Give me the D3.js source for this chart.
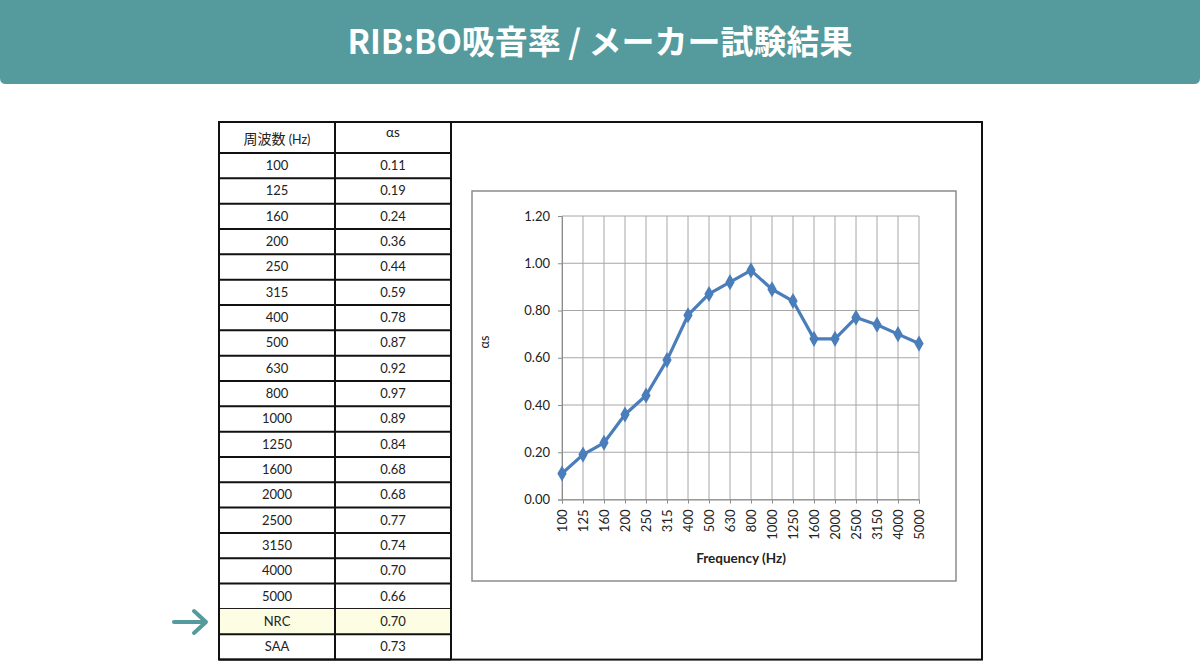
<!DOCTYPE html>
<html><head><meta charset="utf-8">
<script src="https://cdn.jsdelivr.net/npm/d3@7/dist/d3.min.js"></script>
<style>
body{margin:0;background:#fff;}
svg{display:block;}
</style></head>
<body>
<svg id="c" width="1200" height="670"></svg>
<script>
const title = "RIB:BO吸音率 / メーカー試験結果";
const frequencies = ["100","125","160","200","250","315","400","500","630","800","1000","1250","1600","2000","2500","3150","4000","5000"];
const alphaValues = [0.11,0.19,0.24,0.36,0.44,0.59,0.78,0.87,0.92,0.97,0.89,0.84,0.68,0.68,0.77,0.74,0.70,0.66];
const summaryLabels = ["NRC","SAA"];
const summaryValues = [0.70,0.73];
const yTicks = [0,0.2,0.4,0.6,0.8,1.0,1.2];

const svg = d3.select("#c");
const teal = "#559a9c";

// Banner
svg.append("path")
  .attr("d", "M0,0 H1200 V78 Q1200,84 1194,84 H6 Q0,84 0,78 Z")
  .attr("fill", teal);
svg.append("text").attr("x",600).attr("y",54).attr("text-anchor","middle")
  .attr("font-family","'Noto Sans CJK JP','Noto Sans',sans-serif").attr("font-weight","700")
  .attr("font-size",33).attr("fill","#fff").text(title);

// Table
const tL = 219, tM = 335, tR = 451, boxR = 982, tTop = 122, hdrB = 153, rowH = 25.33;
const rows = frequencies.map((f,i)=>({label:f, value:alphaValues[i].toFixed(2)}))
  .concat(summaryLabels.map((s,i)=>({label:s, value:summaryValues[i].toFixed(2), hl: s==="NRC"})));
const tBot = hdrB + rows.length*rowH;
const font = "Lato,'Open Sans',sans-serif";

const tg = svg.append("g");
rows.forEach((r,i)=>{
  const y0 = hdrB + i*rowH;
  if (r.hl) tg.append("rect").attr("x",tL).attr("y",y0).attr("width",tR-tL).attr("height",rowH).attr("fill","#fdfde3");
  tg.append("text").attr("x",(tL+tM)/2).attr("y",y0+rowH/2+4.5).attr("text-anchor","middle")
    .attr("font-family",font).attr("font-size",13).attr("fill","#222").text(r.label);
  tg.append("text").attr("x",(tM+tR)/2).attr("y",y0+rowH/2+4.5).attr("text-anchor","middle")
    .attr("font-family",font).attr("font-size",13).attr("fill","#222").text(r.value);
  tg.append("line").attr("x1",tL).attr("x2",tR).attr("y1",y0+rowH).attr("y2",y0+rowH)
    .attr("stroke","#111").attr("stroke-width",2);
});
// header
const h1 = tg.append("text").attr("x",(tL+tM)/2).attr("y",144).attr("text-anchor","middle")
  .attr("font-family","'Noto Sans CJK JP',sans-serif").attr("font-size",14).attr("fill","#222");
h1.append("tspan").text("周波数 ");
h1.append("tspan").attr("font-size",12.5).attr("font-family",font).text("(Hz)");
tg.append("text").attr("x",(tM+tR)/2).attr("y",137).attr("text-anchor","middle")
  .attr("font-family",font).attr("font-size",13.5).attr("fill","#222").text("αs");
tg.append("line").attr("x1",tL).attr("x2",tR).attr("y1",hdrB).attr("y2",hdrB).attr("stroke","#111").attr("stroke-width",2);
[tL,tM,tR].forEach(x=>tg.append("line").attr("x1",x).attr("x2",x).attr("y1",tTop).attr("y2",tBot).attr("stroke","#111").attr("stroke-width",2));
tg.append("rect").attr("x",tL).attr("y",tTop).attr("width",boxR-tL).attr("height",tBot-tTop)
  .attr("fill","none").attr("stroke","#111").attr("stroke-width",2);

// Arrow
const ag = svg.append("g").attr("stroke",teal).attr("stroke-width",4).attr("fill","none").attr("stroke-linecap","round").attr("stroke-linejoin","round");
ag.append("line").attr("x1",174).attr("x2",205).attr("y1",622).attr("y2",622);
ag.append("polyline").attr("points","194,611 206,622 194,633");

// Chart frame
svg.append("rect").attr("x",472).attr("y",191).attr("width",484).attr("height",390)
  .attr("fill","#fff").attr("stroke","#8c8c8c").attr("stroke-width",1.5);

const x = d3.scalePoint().domain(frequencies).range([562,919]);
const y = d3.scaleLinear().domain([0,1.2]).range([499.5,216]);

const grid = svg.append("g").attr("stroke","#a6a6a6").attr("stroke-width",1);
frequencies.forEach(f=>grid.append("line").attr("x1",x(f)).attr("x2",x(f)).attr("y1",y(1.2)).attr("y2",y(0)));
yTicks.forEach(t=>grid.append("line").attr("x1",x(frequencies[0])).attr("x2",x(frequencies[frequencies.length-1])).attr("y1",y(t)).attr("y2",y(t)));

const yAxis = svg.append("g").attr("transform",`translate(${x(frequencies[0])},0)`)
  .call(d3.axisLeft(y).tickValues(yTicks).tickFormat(d3.format(".2f")).tickSize(4).tickPadding(8));
yAxis.select(".domain").attr("stroke","#8c8c8c");
yAxis.selectAll(".tick line").attr("stroke","#8c8c8c");
yAxis.selectAll("text").attr("font-family",font).attr("font-size",13).attr("fill","#222");

const xAxis = svg.append("g").attr("transform",`translate(0,${y(0)})`)
  .call(d3.axisBottom(x).tickSize(4).tickPadding(6));
xAxis.select(".domain").attr("stroke","#8c8c8c");
xAxis.selectAll(".tick line").attr("stroke","#8c8c8c");
xAxis.selectAll("text").attr("font-family",font).attr("font-size",13).attr("fill","#222")
  .attr("transform","rotate(-90)").attr("text-anchor","end").attr("dy","0.35em").attr("x",-10).attr("y",0);

svg.append("text").attr("x",741).attr("y",563).attr("text-anchor","middle")
  .attr("font-family",font).attr("font-weight","700").attr("font-size",13.5).attr("fill","#222").text("Frequency (Hz)");
svg.append("text").attr("transform","translate(489,342) rotate(-90)").attr("text-anchor","middle")
  .attr("font-family",font).attr("font-size",12.5).attr("fill","#222").text("αs");

// Line + markers
const data = frequencies.map((f,i)=>({f, v: alphaValues[i]}));
svg.append("path").datum(data)
  .attr("d", d3.line().x(d=>x(d.f)).y(d=>y(d.v)))
  .attr("fill","none").attr("stroke","#4a7ebb").attr("stroke-width",3.2).attr("stroke-linejoin","round");
svg.append("g").selectAll("path").data(data).join("path")
  .attr("d", d3.symbol().type(d3.symbolDiamond).size(75))
  .attr("transform", d=>`translate(${x(d.f)},${y(d.v)})`)
  .attr("fill","#4a7ebb");
</script>
</body></html>
